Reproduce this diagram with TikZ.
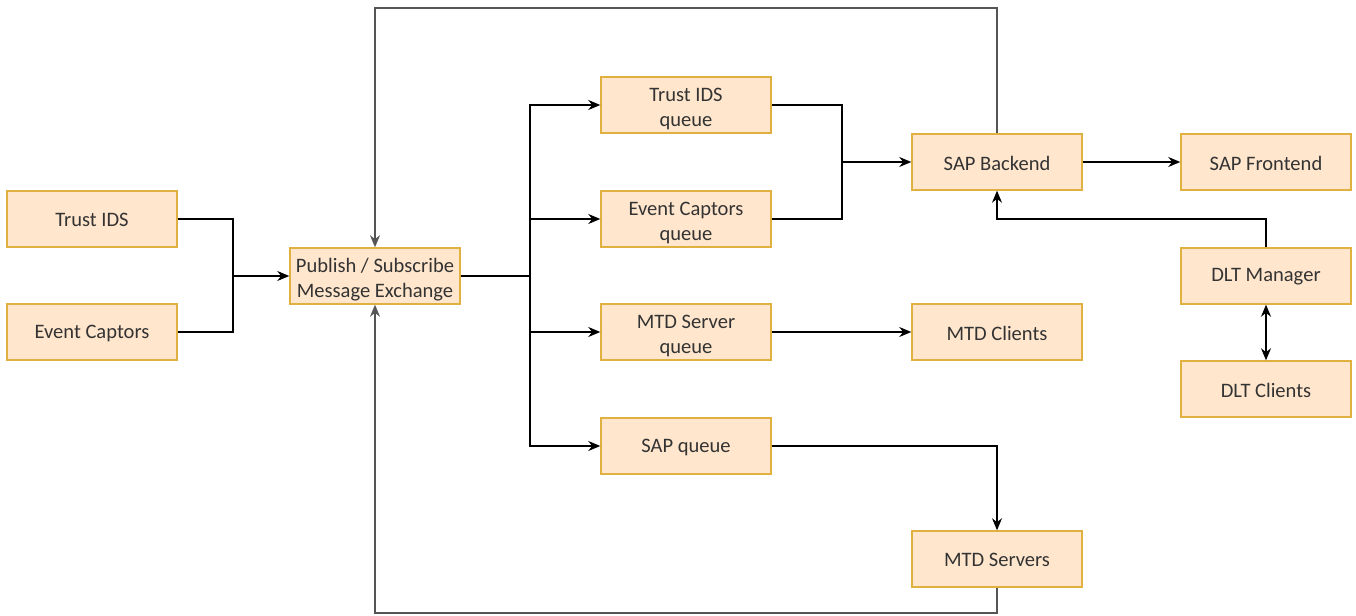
\documentclass[tikz,border=0pt]{standalone}
\usepackage{fontspec}
\setmainfont{Carlito}
\usetikzlibrary{arrows.meta}
\definecolor{boxfill}{HTML}{FFE6CC}
\definecolor{boxline}{HTML}{E0B040}
\definecolor{txt}{HTML}{333333}
\definecolor{loopline}{HTML}{555555}
\tikzset{
  block/.style={draw=boxline, fill=boxfill, line width=1.1pt, minimum width=127.5pt,
    minimum height=42pt, inner sep=0pt},
  blocktext/.style={inner sep=0pt, align=center, text=txt,
    font=\fontsize{15.4}{18.75}\selectfont},
  link/.style={draw=black, line width=0.9pt, -{Stealth[length=9pt,width=7.5pt]}},
  plain/.style={draw=black, line width=0.9pt},
  backloop/.style={draw=loopline, line width=1.3pt, -{Stealth[length=9pt,width=7.5pt]}},
}
% box with its caption, the caption lowered a little (#4) to sit optically centred
\newcommand\blockat[4][0.8pt]{%
  \node[block] (#2) at (#3) {};
  \node[blocktext] (#2-t) at ([yshift=-#1]#2.center) {#4};}
\begin{document}
\begin{tikzpicture}[x=0.75pt,y=-0.75pt]
\useasboundingbox (0,0) rectangle (1356,616);

% sources
\blockat{tids}{92,219}{Trust IDS}
\blockat{ecap}{92,332}{Event Captors}
% exchange
\blockat[3pt]{pubsub}{375,276}{Publish / Subscribe\\Message Exchange}
% queues
\blockat[3pt]{qtids}{686,105}{Trust IDS\\queue}
\blockat[3pt]{qecap}{686,219}{Event Captors\\queue}
\blockat[3pt]{qmtd}{686,332}{MTD Server\\queue}
\blockat{qsap}{686,446}{SAP queue}
% consumers
\blockat{sapb}{997,162}{SAP Backend}
\blockat{sapf}{1266,162}{SAP Frontend}
\blockat{dltm}{1266,276}{DLT Manager}
\blockat{dltc}{1266,389}{DLT Clients}
\blockat{mtdc}{997,332}{MTD Clients}
\blockat{mtds}{997,559}{MTD Servers}

% junction points
\coordinate (jin) at (233,276);
\coordinate (jout) at (530,276);
\coordinate (jsap) at (842,162);
\coordinate (jdlt) at (997,219);

% sources into the exchange
\draw[plain] (tids.east) -| (jin);
\draw[plain] (ecap.east) -| (jin);
\draw[link] (jin) -- (pubsub.west);

% exchange fan-out to queues
\draw[plain] (pubsub.east) -- (jout);
\draw[link] (jout) |- (qtids.west);
\draw[link] (jout) |- (qecap.west);
\draw[link] (jout) |- (qmtd.west);
\draw[link] (jout) |- (qsap.west);

% queues to consumers
\draw[plain] (qtids.east) -| (jsap);
\draw[plain] (qecap.east) -| (jsap);
\draw[link] (jsap) -- (sapb.west);
\draw[link] (sapb.east) -- (sapf.west);
\draw[link] (qmtd.east) -- (mtdc.west);
\draw[link] (qsap.east) -| (mtds.north);

% DLT
\draw[link] (dltm.north) |- (jdlt) -- (sapb.south);
\draw[link, {Stealth[length=9pt,width=7.5pt]}-{Stealth[length=9pt,width=7.5pt]}] (dltm.south) -- (dltc.north);

% feedback loops to the exchange
\coordinate (topturn) at (375,8);
\coordinate (botturn) at (375,613);
\draw[backloop] (sapb.north) |- (topturn) -- (pubsub.north);
\draw[backloop] (mtds.south) |- (botturn) -- (pubsub.south);
\end{tikzpicture}
\end{document}
